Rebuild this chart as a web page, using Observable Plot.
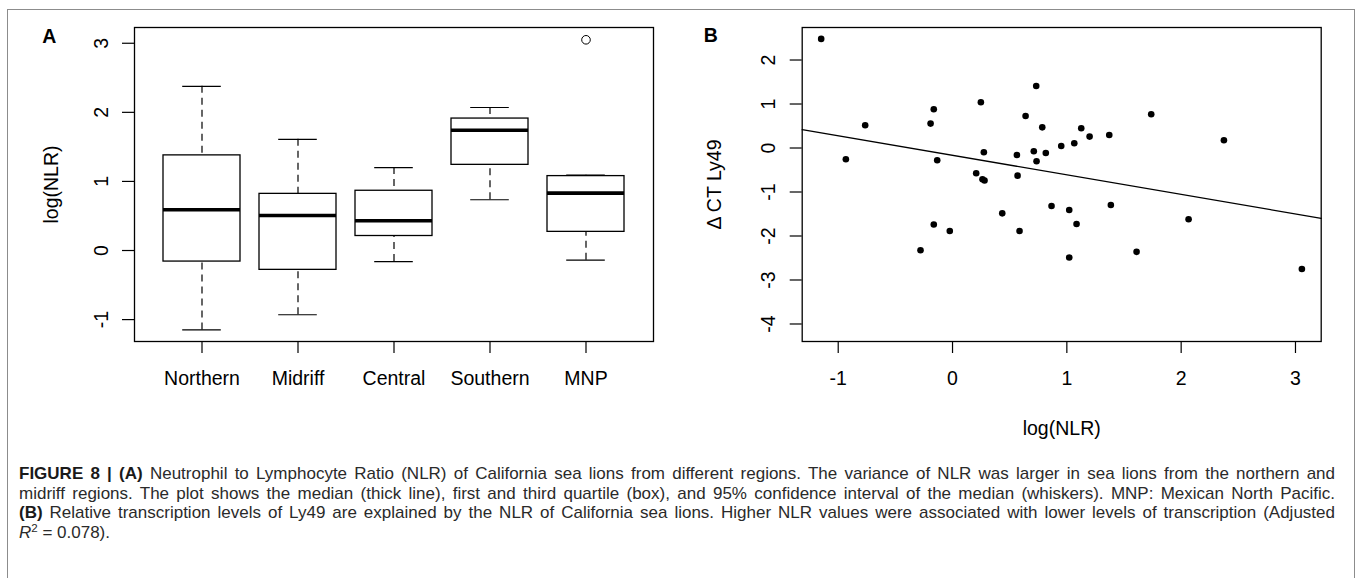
<!DOCTYPE html>
<html>
<head>
<meta charset="utf-8">
<script src="https://cdn.jsdelivr.net/npm/d3@7"></script>
<script src="https://cdn.jsdelivr.net/npm/@observablehq/plot@0.6"></script>
<style>
html, body { margin: 0; padding: 0; background: #fff; }
#page { position: relative; width: 1360px; height: 578px; overflow: hidden; background: #fff; font-family: "Liberation Sans", Arial, Helvetica, sans-serif; }
#frame { position: absolute; left: 7px; top: 9px; width: 1348px; height: 590px; border: 1.5px solid #8c8c8c; box-sizing: border-box; }
#panelA { position: absolute; left: 0; top: 0; width: 680px; }
#panelB { position: absolute; left: 680px; top: 0; width: 680px; }
#caption { position: absolute; left: 19px; top: 464px; width: 1316px; font-size: 17px; line-height: 19.5px; color: #2a2a2a; }
#caption div { white-space: nowrap; text-align: justify; text-align-last: justify; }
#caption.measure div { text-align: left; text-align-last: left; }
#caption div.last { text-align: left; text-align-last: left; }
#caption b { color: #1a1a1a; }
#caption sup { font-size: 0.68em; line-height: 0; position: relative; top: -0.45em; vertical-align: baseline; }
</style>
</head>
<body>
<div id="page">
  <div id="frame"></div>
  <div id="panelA"></div>
  <div id="panelB"></div>
  <div id="caption" class="measure">
    <div><span><b>FIGURE 8 | (A)</b> Neutrophil to Lymphocyte Ratio (NLR) of California sea lions from different regions. The variance of NLR was larger in sea lions from the northern and</span></div>
    <div><span>midriff regions. The plot shows the median (thick line), first and third quartile (box), and 95% confidence interval of the median (whiskers). MNP: Mexican North Pacific.</span></div>
    <div><span><b>(B)</b> Relative transcription levels of Ly49 are explained by the NLR of California sea lions. Higher NLR values were associated with lower levels of transcription (Adjusted</span></div>
    <div class="last"><span><i>R</i><sup>2</sup> = 0.078).</span></div>
  </div>
</div>
<script>
// ---------- Panel A: boxplot summary per region ----------
const regions      = ["Northern", "Midriff", "Central", "Southern", "MNP"];
const whiskerLow   = [-1.15, -0.93, -0.16, 0.735, -0.14];
const quartile1    = [-0.16, -0.28, 0.21, 1.24, 0.27];
const medians      = [0.59, 0.507, 0.43, 1.74, 0.83];
const quartile3    = [1.377, 0.82, 0.865, 1.91, 1.077];
const whiskerHigh  = [2.377, 1.61, 1.20, 2.07, 1.09];
const outlierRegions = ["MNP"];
const outlierValues  = [3.05];
const yTicksA = [-1, 0, 1, 2, 3];
const yDomainA = [-1.317, 3.228];
const yLabelA = "log(NLR)";
const panelLabelA = "A";

// ---------- Panel B: scatter log(NLR) vs delta CT Ly49 ----------
const nlrLog = [-1.149, -0.933, -0.764, -0.192, -0.164, -0.134, 0.248, 0.274, 0.207, 0.262,
                0.28, 0.563, 0.569, 0.639, 0.732, 0.785, 0.711, 0.816, 0.735, 0.951,
                1.065, 1.126, 1.199, 1.371, 1.738, 2.374, -0.28, -0.164, -0.024, 0.435,
                0.586, 0.866, 1.021, 1.085, 1.385, 1.021, 1.61, 2.065, 3.056];
const deltaCT = [2.48, -0.257, 0.516, 0.555, 0.88, -0.28, 1.04, -0.098, -0.575, -0.71,
                 -0.74, -0.159, -0.628, 0.727, 1.41, 0.47, -0.075, -0.113, -0.302, 0.045,
                 0.107, 0.448, 0.259, 0.296, 0.766, 0.175, -2.325, -1.74, -1.886, -1.485,
                 -1.886, -1.317, -1.409, -1.727, -1.295, -2.49, -2.36, -1.62, -2.75];
const fitIntercept = -0.166;
const fitSlope = -0.444;
const xTicksB = [-1, 0, 1, 2, 3];
const yTicksB = [-4, -3, -2, -1, 0, 1, 2];
const xDomainB = [-1.315, 3.225];
const yDomainB = [-4.398, 2.739];
const xLabelB = "log(NLR)";
const yLabelB = "\u0394 CT Ly49";
const panelLabelB = "B";

// ---------- build tables ----------
const boxData = regions.map((r, i) => ({
  region: r, lo: whiskerLow[i], q1: quartile1[i], med: medians[i], q3: quartile3[i], hi: whiskerHigh[i]
}));
const outliers = outlierRegions.map((r, i) => ({region: r, value: outlierValues[i]}));
const points = nlrLog.map((x, i) => ({x, y: deltaCT[i]}));
const fitLine = xDomainB.map(x => ({x, y: fitIntercept + fitSlope * x}));

const fmt = d => String(d);
const svgStyle = {
  fontFamily: "'Liberation Sans', Arial, Helvetica, sans-serif",
  fontSize: "19.5px",
  color: "black",
  background: "transparent",
  overflow: "visible"
};

const plotA = Plot.plot({
  width: 680, height: 400,
  marginTop: 27, marginLeft: 134, marginRight: 27, marginBottom: 59,
  style: svgStyle,
  x: {type: "band", domain: regions, paddingInner: 0.2, paddingOuter: 0.3},
  y: {domain: yDomainA},
  marks: [
    Plot.ruleX(boxData, {x: "region", y1: "hi", y2: "q3", stroke: "black", strokeWidth: 1.2, strokeDasharray: "7,5"}),
    Plot.ruleX(boxData, {x: "region", y1: "lo", y2: "q1", stroke: "black", strokeWidth: 1.2, strokeDasharray: "7,5"}),
    Plot.tickY(boxData, {x: "region", y: "hi", insetLeft: 19.2, insetRight: 19.2, stroke: "black", strokeWidth: 1.2}),
    Plot.tickY(boxData, {x: "region", y: "lo", insetLeft: 19.2, insetRight: 19.2, stroke: "black", strokeWidth: 1.2}),
    Plot.barY(boxData, {x: "region", y1: "q1", y2: "q3", fill: "white", stroke: "black", strokeWidth: 1.3}),
    Plot.tickY(boxData, {x: "region", y: "med", stroke: "black", strokeWidth: 3.6}),
    Plot.dot(outliers, {x: "region", y: "value", r: 4.3, stroke: "black", strokeWidth: 1, fill: "none"}),
    Plot.frame({stroke: "black", strokeWidth: 1.3}),
    Plot.axisX({tickSize: 12, tickPadding: 18, strokeWidth: 1.2, label: null}),
    Plot.axisY(yTicksA, {tickSize: 12, tickPadding: 15, tickRotate: -90, tickFormat: fmt, strokeWidth: 1.2, label: null}),
    Plot.text([yLabelA], {text: d => d, frameAnchor: "left", rotate: -90, lineAnchor: "bottom", textAnchor: "middle", dx: -77}),
    Plot.text([panelLabelA], {text: d => d, frameAnchor: "top-left", textAnchor: "start", lineAnchor: "bottom", dx: -92.3, dy: 15.3, fontWeight: "bold"})
  ]
});
document.getElementById("panelA").appendChild(plotA);

const plotB = Plot.plot({
  width: 680, height: 450,
  marginTop: 27, marginLeft: 121.7, marginRight: 39.3, marginBottom: 109,
  style: svgStyle,
  x: {domain: xDomainB},
  y: {domain: yDomainB},
  marks: [
    Plot.line(fitLine, {x: "x", y: "y", stroke: "black", strokeWidth: 1.3}),
    Plot.dot(points, {x: "x", y: "y", r: 3.3, fill: "black"}),
    Plot.frame({stroke: "black", strokeWidth: 1.3}),
    Plot.axisX(xTicksB, {tickSize: 12, tickPadding: 18, tickFormat: fmt, strokeWidth: 1.2, label: null}),
    Plot.axisY(yTicksB, {tickSize: 12, tickPadding: 15, tickRotate: -90, tickFormat: fmt, strokeWidth: 1.2, label: null}),
    Plot.text([xLabelB], {text: d => d, frameAnchor: "bottom", lineAnchor: "top", textAnchor: "middle", dy: 80}),
    Plot.text([yLabelB], {text: d => d, frameAnchor: "left", rotate: -90, lineAnchor: "bottom", textAnchor: "middle", dx: -81}),
    Plot.text([panelLabelB], {text: d => d, frameAnchor: "top-left", textAnchor: "start", lineAnchor: "bottom", dx: -98.4, dy: 14.7, fontWeight: "bold"})
  ]
});
document.getElementById("panelB").appendChild(plotB);

// ---------- fit caption lines into the available width ----------
(function fitCaption() {
  const cap = document.getElementById("caption");
  const avail = cap.clientWidth;
  let maxW = 0;
  cap.querySelectorAll("div > span").forEach(s => { maxW = Math.max(maxW, s.getBoundingClientRect().width); });
  const base = 17;
  if (maxW > avail - 4) {
    cap.style.fontSize = (base * (avail - 4) / maxW).toFixed(2) + "px";
  }
  cap.classList.remove("measure");
})();
</script>
</body>
</html>
